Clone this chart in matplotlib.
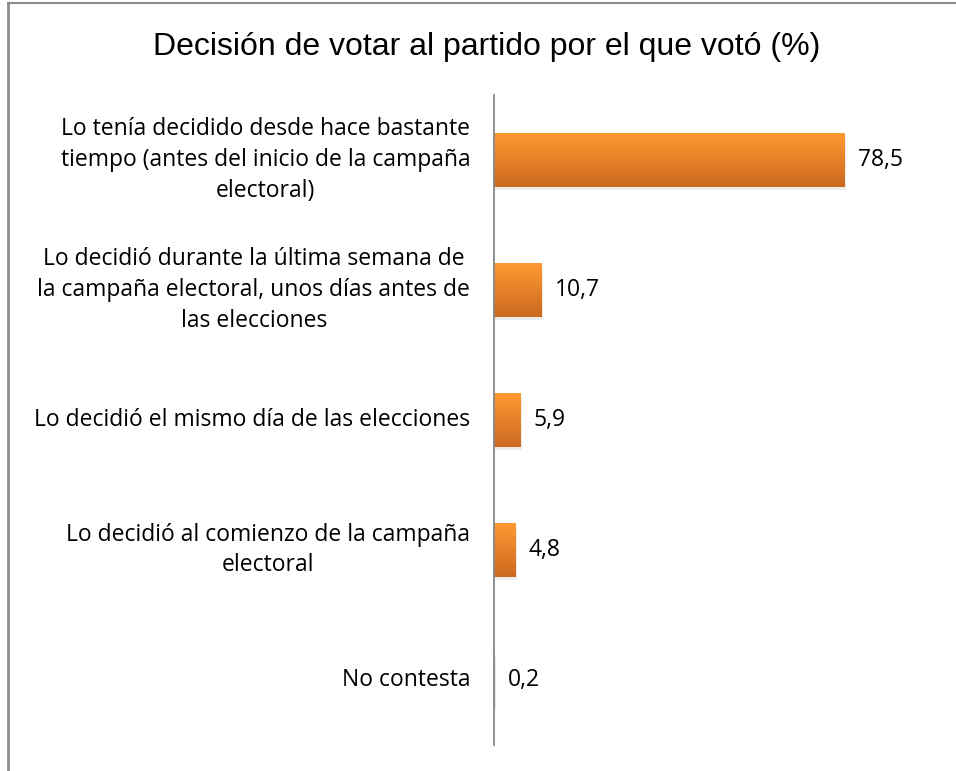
import numpy as np
import matplotlib.pyplot as plt
from matplotlib.colors import LinearSegmentedColormap
from matplotlib.lines import Line2D

categories = [
    "Lo tenía decidido desde hace bastante\ntiempo (antes del inicio de la campaña\nelectoral)",
    "Lo decidió durante la última semana de\nla campaña electoral, unos días antes de\nlas elecciones",
    "Lo decidió el mismo día de las elecciones",
    "Lo decidió al comienzo de la campaña\nelectoral",
    "No contesta",
]
values = [78.5, 10.7, 5.9, 4.8, 0.2]
value_labels = ["78,5", "10,7", "5,9", "4,8", "0,2"]
title = "Decisión de votar al partido por el que votó (%)"

plt.rcParams['font.family'] = ['Open Sans', 'DejaVu Sans']

W, H = 956, 771
fig = plt.figure(figsize=(W / 100, H / 100), dpi=100)
ax = fig.add_axes([494 / W, 1 - 745 / H, (941 - 494) / W, (745 - 95) / H])

cmap = LinearSegmentedColormap.from_list("orange", ["#ff9933", "#cc691f"])
grad = np.linspace(0, 1, 64).reshape(-1, 1)
bh = 0.41
for i, v in enumerate(values):
    # soft shadow
    ax.add_patch(plt.Rectangle((0, i - bh / 2 + 0.025), v + 0.3, bh,
                               color="#000000", alpha=0.07, lw=0, zorder=1))
    ax.imshow(grad, cmap=cmap, aspect="auto", interpolation="bilinear",
              extent=(0, v, i + bh / 2, i - bh / 2), zorder=2)
    ax.text(v + 3, i, value_labels[i], va="center", ha="left",
            fontsize=16.5, color="#000000")
    ax.text(-5.3, i, categories[i], va="center", ha="right",
            multialignment="center", fontsize=16.5, color="#000000",
            linespacing=1.38)

ax.set_xlim(0, 100)
ax.set_ylim(len(values) - 0.5, -0.5)
ax.set_xticks([])
ax.set_yticks([])
for s in ["top", "right", "bottom"]:
    ax.spines[s].set_visible(False)
ax.spines["left"].set_color("#868686")
ax.spines["left"].set_linewidth(1.3)

fig.text(487 / W, 1 - 47 / H, title, ha="center", va="center", fontsize=23,
         family=["Liberation Sans", "DejaVu Sans"])

# chart area border (clipped at right/bottom in the reference)
fig.add_artist(Line2D([7.5 / W, 7.5 / W], [0, 1 - 3 / H], color="#8c8c8c", lw=2))
fig.add_artist(Line2D([7.5 / W, 1], [1 - 3 / H, 1 - 3 / H], color="#8c8c8c", lw=1.5))

fig.savefig("out.png", dpi=100)
